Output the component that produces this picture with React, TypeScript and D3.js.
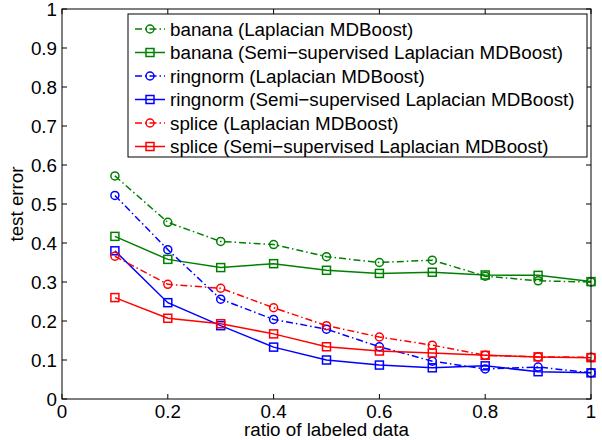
import { useEffect, useRef } from 'react';
import * as d3 from 'd3';

const ratios = [0.1, 0.2, 0.3, 0.4, 0.5, 0.6, 0.7, 0.8, 0.9, 1.0];

const bananaLap = [0.572, 0.453, 0.404, 0.396, 0.365, 0.35, 0.356, 0.315, 0.303, 0.3];
const bananaSemi = [0.417, 0.358, 0.337, 0.347, 0.33, 0.322, 0.325, 0.318, 0.317, 0.301];
const ringnormLap = [0.522, 0.383, 0.256, 0.204, 0.179, 0.134, 0.097, 0.077, 0.082, 0.067];
const ringnormSemi = [0.38, 0.247, 0.188, 0.133, 0.1, 0.087, 0.08, 0.085, 0.07, 0.067];
const spliceLap = [0.366, 0.294, 0.284, 0.234, 0.188, 0.159, 0.138, 0.112, 0.108, 0.107];
const spliceSemi = [0.26, 0.207, 0.193, 0.167, 0.134, 0.123, 0.118, 0.112, 0.108, 0.106];

const seriesNames = [
  'banana (Laplacian MDBoost)',
  'banana (Semi\u2212supervised Laplacian MDBoost)',
  'ringnorm (Laplacian MDBoost)',
  'ringnorm (Semi\u2212supervised Laplacian MDBoost)',
  'splice (Laplacian MDBoost)',
  'splice (Semi\u2212supervised Laplacian MDBoost)',
];

const xTicks = [0, 0.2, 0.4, 0.6, 0.8, 1];
const yTicks = [0, 0.1, 0.2, 0.3, 0.4, 0.5, 0.6, 0.7, 0.8, 0.9, 1];

const GREEN = '#008000';
const BLUE = '#0000ff';
const RED = '#ff0000';
const DASHDOT = '7,3,1.5,3';
const FONT = "'Liberation Sans', Arial, Helvetica, sans-serif";
const FS = '18.8px';

export default function App() {
  const svgRef = useRef<SVGSVGElement>(null);

  useEffect(() => {
    const svg = d3.select(svgRef.current);
    svg.selectAll('*').remove();

    const left = 62, right = 591, top = 9, bottom = 399;

    const x = d3.scaleLinear().domain([0, 1]).range([left, right]);
    const y = d3.scaleLinear().domain([0, 1]).range([bottom, top]);

    const series = [
      { name: seriesNames[0], values: bananaLap, color: GREEN, dash: DASHDOT, marker: 'circle' },
      { name: seriesNames[1], values: bananaSemi, color: GREEN, dash: null, marker: 'square' },
      { name: seriesNames[2], values: ringnormLap, color: BLUE, dash: DASHDOT, marker: 'circle' },
      { name: seriesNames[3], values: ringnormSemi, color: BLUE, dash: null, marker: 'square' },
      { name: seriesNames[4], values: spliceLap, color: RED, dash: DASHDOT, marker: 'circle' },
      { name: seriesNames[5], values: spliceSemi, color: RED, dash: null, marker: 'square' },
    ];

    svg.append('rect').attr('width', 602).attr('height', 440).attr('fill', '#fff');

    // ticks on all four sides, pointing inward
    const tl = 5;
    const tickG = svg.append('g').attr('stroke', '#000').attr('stroke-width', 1);
    xTicks.forEach(t => {
      tickG.append('line').attr('x1', x(t)).attr('x2', x(t)).attr('y1', bottom).attr('y2', bottom - tl);
      tickG.append('line').attr('x1', x(t)).attr('x2', x(t)).attr('y1', top).attr('y2', top + tl);
    });
    yTicks.forEach(t => {
      tickG.append('line').attr('y1', y(t)).attr('y2', y(t)).attr('x1', left).attr('x2', left + tl);
      tickG.append('line').attr('y1', y(t)).attr('y2', y(t)).attr('x1', right).attr('x2', right - tl);
    });

    const txt = svg.append('g').style('font-family', FONT).style('font-size', FS).attr('fill', '#000');
    xTicks.forEach(t => {
      txt.append('text').attr('x', x(t)).attr('y', 418).attr('text-anchor', 'middle').text(d3.format('~g')(t));
    });
    yTicks.forEach(t => {
      txt.append('text').attr('x', left - 5).attr('y', y(t)).attr('dy', '0.35em').attr('text-anchor', 'end').text(d3.format('~g')(t));
    });
    txt.append('text').attr('x', (left + right) / 2).attr('y', 436).attr('text-anchor', 'middle').text('ratio of labeled data');
    txt.append('text').attr('transform', `translate(23,${(top + bottom) / 2}) rotate(-90)`).attr('text-anchor', 'middle').text('test error');

    const line = d3.line<number>().x((_, i) => x(ratios[i])).y(d => y(d));

    const drawMarker = (g: any, cx: number, cy: number, kind: string, color: string) => {
      if (kind === 'circle') {
        g.append('circle').attr('cx', cx).attr('cy', cy).attr('r', 4).attr('fill', 'none').attr('stroke', color).attr('stroke-width', 1.5);
      } else {
        g.append('rect').attr('x', cx - 4).attr('y', cy - 4).attr('width', 8).attr('height', 8).attr('fill', 'none').attr('stroke', color).attr('stroke-width', 1.5);
      }
    };

    const plot = svg.append('g');
    series.forEach(s => {
      plot.append('path').datum(s.values).attr('d', line).attr('fill', 'none')
        .attr('stroke', s.color).attr('stroke-width', 1.5).attr('stroke-dasharray', s.dash);
      s.values.forEach((v, i) => drawMarker(plot, x(ratios[i]), y(v), s.marker, s.color));
    });

    // axes frame
    svg.append('rect').attr('x', left).attr('y', top).attr('width', right - left).attr('height', bottom - top)
      .attr('fill', 'none').attr('stroke', '#000').attr('stroke-width', 1);

    // legend
    const lx = 128, ly = 14, lw = 459, lh = 143;
    const leg = svg.append('g');
    leg.append('rect').attr('x', lx).attr('y', ly).attr('width', lw).attr('height', lh)
      .attr('fill', '#fff').attr('stroke', '#000').attr('stroke-width', 1);
    series.forEach((s, i) => {
      const cy = 29 + i * 23.5;
      leg.append('line').attr('x1', 135).attr('x2', 165).attr('y1', cy).attr('y2', cy)
        .attr('stroke', s.color).attr('stroke-width', 1.5).attr('stroke-dasharray', s.dash);
      drawMarker(leg, 150, cy, s.marker, s.color);
      leg.append('text').attr('x', 170).attr('y', cy).attr('dy', '0.35em')
        .style('font-family', FONT).style('font-size', FS).text(s.name);
    });
  }, []);

  return (
    <svg ref={svgRef} width={602} height={440} style={{ position: 'absolute', left: 0, top: 0 }} />
  );
}
